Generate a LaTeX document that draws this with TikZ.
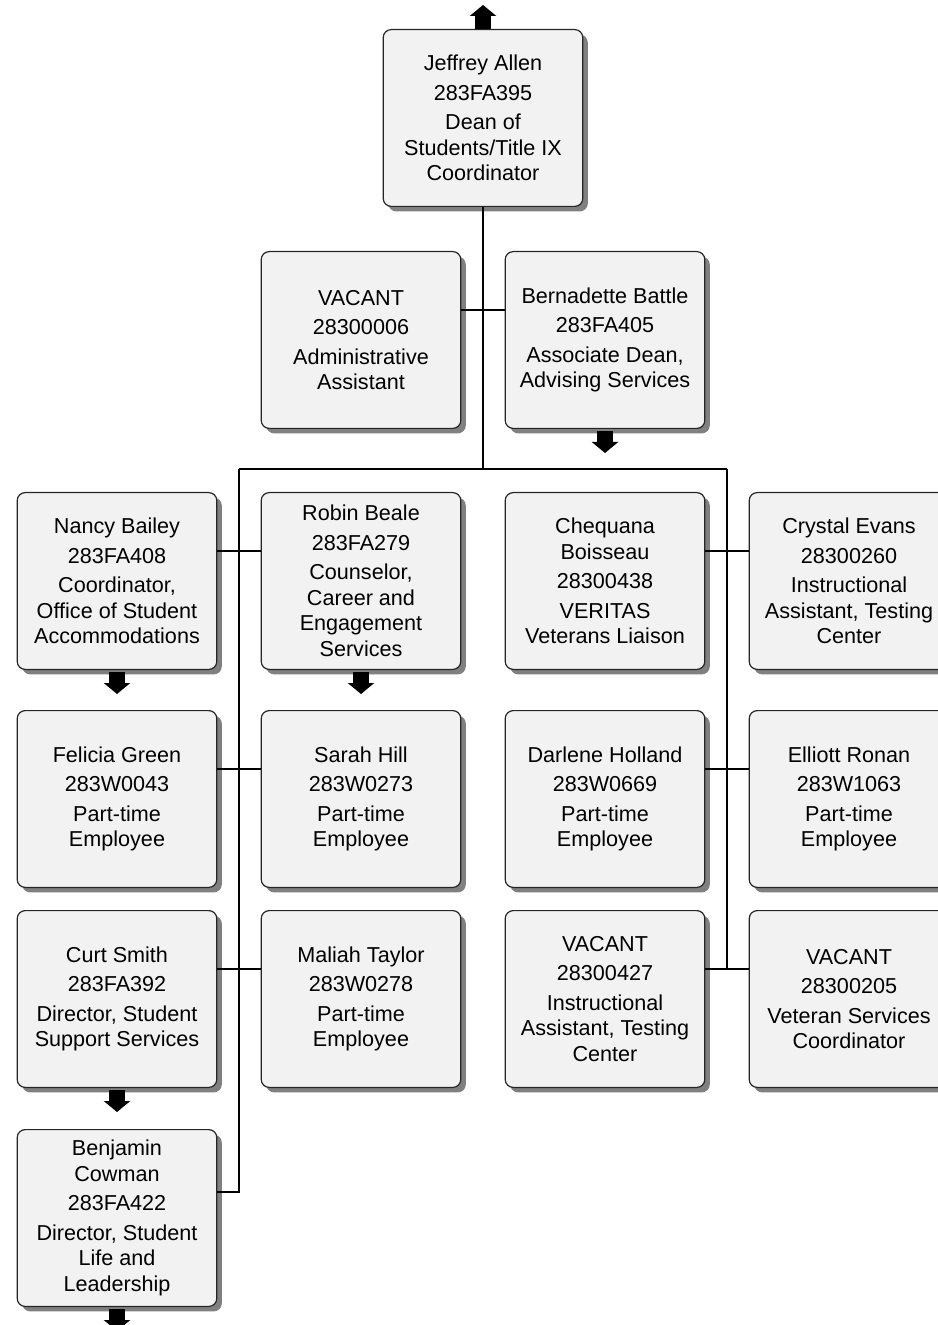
\documentclass[tikz,border=0pt]{standalone}
\usepackage{fontspec}
\setmainfont{Liberation Sans}
\usetikzlibrary{positioning,shadows,arrows.meta,calc}

\begin{document}
\begin{tikzpicture}[
  x=0.5pt, y=-0.5pt,
  font=\fontsize{10.8}{12.75}\selectfont,
  box/.style={draw=black!85, line width=0.6pt, rounded corners=4pt, fill=black!5, align=center,
    inner sep=2pt, minimum width=99.8pt, minimum height=88.4pt,
    drop shadow={shadow xshift=2.5pt, shadow yshift=-2.5pt, fill=black!50, opacity=1}},
  link/.style={line width=1pt},
  more/.style={line width=8pt, -{Triangle[width=13pt,length=5.5pt]}}
]
\useasboundingbox (0,0) rectangle (937,1325);

% second level row
\node[box] (nancy) at (117,581)
  {Nancy Bailey\\[2pt]283FA408\\[2pt]Coordinator,\\Office of Student\\Accommodations};
\node[box, right=21.6pt of nancy] (robin)
  {Robin Beale\\[2pt]283FA279\\[2pt]Counselor,\\Career and\\Engagement\\Services};
\node[box, right=21.6pt of robin] (cheq)
  {Chequana\\Boisseau\\[2pt]28300438\\[2pt]VERITAS\\Veterans Liaison};
\node[box, right=21.6pt of cheq] (crystal)
  {Crystal Evans\\[2pt]28300260\\[2pt]Instructional\\Assistant, Testing\\Center};

% top
\node[box, above=31.5pt of robin] (vac) {VACANT\\[2pt]28300006\\[2pt]Administrative\\Assistant};
\node[box, above=31.5pt of cheq] (bern) {Bernadette Battle\\[2pt]283FA405\\[2pt]Associate Dean,\\Advising Services};
\coordinate (mid) at ($(vac.north)!0.5!(bern.north)$);
\node[box, above=22pt of mid] (jeff)
  {Jeffrey Allen\\[2pt]283FA395\\[2pt]Dean of\\Students/Title IX\\Coordinator};

% lower rows
\node[box, below=20pt of nancy] (felicia) {Felicia Green\\[2pt]283W0043\\[2pt]Part-time\\Employee};
\node[box, below=11pt of felicia] (curt) {Curt Smith\\[2pt]283FA392\\[2pt]Director, Student\\Support Services};
\node[box, below=20.5pt of curt] (benj)
  {Benjamin\\Cowman\\[2pt]283FA422\\[2pt]Director, Student\\Life and\\Leadership};
\node[box, below=20pt of robin] (sarah) {Sarah Hill\\[2pt]283W0273\\[2pt]Part-time\\Employee};
\node[box, below=11pt of sarah] (maliah) {Maliah Taylor\\[2pt]283W0278\\[2pt]Part-time\\Employee};
\node[box, below=20pt of cheq] (darlene) {Darlene Holland\\[2pt]283W0669\\[2pt]Part-time\\Employee};
\node[box, below=11pt of darlene] (vacit)
  {VACANT\\[2pt]28300427\\[2pt]Instructional\\Assistant, Testing\\Center};
\node[box, below=20pt of crystal] (elliott) {Elliott Ronan\\[2pt]283W1063\\[2pt]Part-time\\Employee};
\node[box, below=11pt of elliott] (vacvs) {VACANT\\[2pt]28300205\\[2pt]Veteran Services\\Coordinator};

% connectors
\coordinate (busL) at (239,469);
\coordinate (busR) at (727,469);
\coordinate (lastL) at ([yshift=13pt]benj.east);
\coordinate (lastR) at ([yshift=15pt]vacvs.west);
\draw[link] (jeff.south) -- (jeff.south |- busL);
\draw[link] (busL) -- (busR);
\draw[link] (busL) |- (lastL);
\draw[link] (busR) -- (busR |- lastR);
\draw[link] ([yshift=15pt]vac.east) -- ([yshift=15pt]bern.west);
\draw[link] ([yshift=15pt]nancy.east) -- ([yshift=15pt]robin.west);
\draw[link] ([yshift=15pt]felicia.east) -- ([yshift=15pt]sarah.west);
\draw[link] ([yshift=15pt]curt.east) -- ([yshift=15pt]maliah.west);
\draw[link] ([yshift=15pt]cheq.east) -- ([yshift=15pt]crystal.west);
\draw[link] ([yshift=15pt]darlene.east) -- ([yshift=15pt]elliott.west);
\draw[link] ([yshift=15pt]vacit.east) -- ([yshift=15pt]vacvs.west);

% more arrows
\coordinate (jeffup) at ([yshift=12pt]jeff.north);
\draw[more] (jeff.north) -- (jeffup);
\foreach \n in {bern,nancy,robin,curt,benj}{
  \coordinate (\n down) at ([yshift=-12pt]\n.south);
  \draw[more] ([yshift=-1pt]\n.south) -- (\n down);
}
\end{tikzpicture}
\end{document}
